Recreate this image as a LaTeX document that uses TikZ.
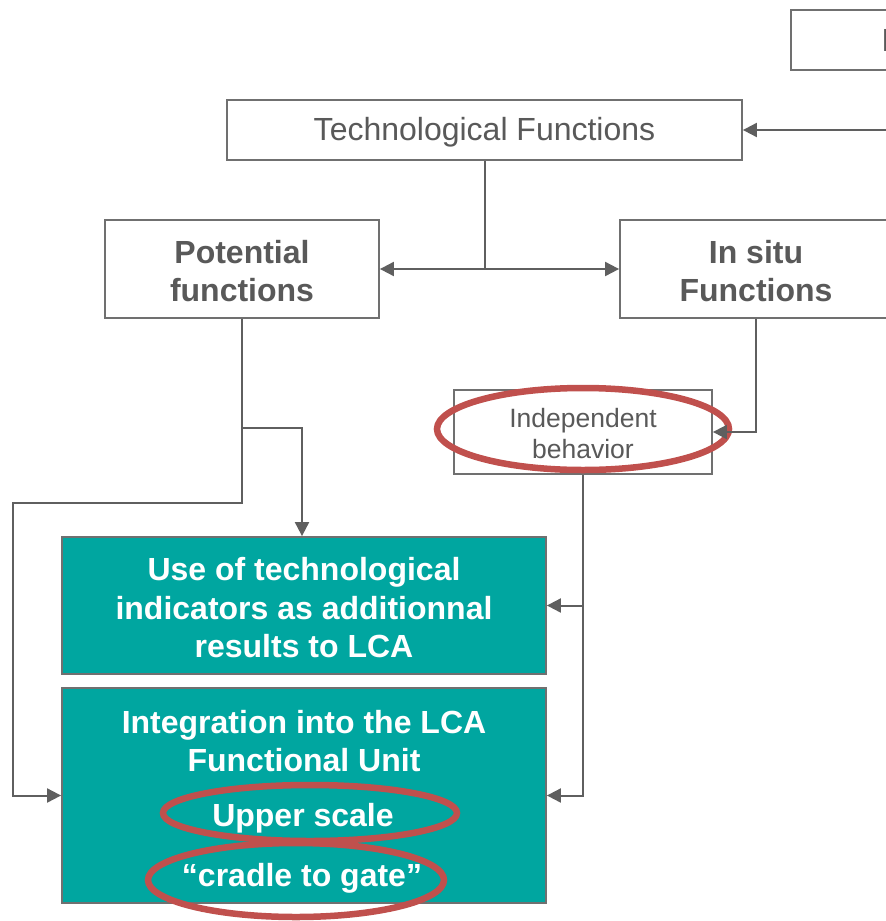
\documentclass[tikz,border=0pt]{standalone}
\usepackage{fontspec}
\setmainfont{Liberation Sans}
\usetikzlibrary{arrows.meta}
\definecolor{linegray}{RGB}{95,95,95}
\definecolor{boxgray}{RGB}{112,112,112}
\definecolor{txtgray}{RGB}{89,89,89}
\definecolor{lcateal}{RGB}{0,166,160}
\definecolor{ringred}{RGB}{192,80,77}
\begin{document}
\begin{tikzpicture}[x=1pt,y=-1pt,
  plainbox/.style={draw=boxgray, line width=1.8pt, fill=white, inner sep=0pt,
    align=center, text=txtgray},
  tealbox/.style={draw=boxgray, line width=1.8pt, fill=lcateal, inner sep=0pt,
    align=center, text=white},
  bigtxt/.style={font=\fontsize{32}{34}\selectfont},
  boldtxt/.style={font=\fontsize{32}{38.5}\selectfont\bfseries},
  smalltxt/.style={font=\fontsize{26.5}{31}\selectfont},
  conn/.style={draw=linegray, line width=2pt},
  arr/.style={conn, -{Triangle[length=14pt,width=14pt]}},
  ring/.style={draw=ringred, line width=6.5pt}]
\useasboundingbox (0,0) rectangle (886,921);
\clip (0,0) rectangle (886,921);

% boxes (frames first, labels placed on their centres)
\node[plainbox, minimum width=320, minimum height=60] (top) at (951,40) {};
\node[anchor=base west, inner sep=0pt, text=txtgray, bigtxt] (topt) at (881.5,51) {F};
\node[plainbox, minimum width=515, minimum height=60] (tech) at (484.5,130) {};
\node[text=txtgray, bigtxt, inner sep=0pt] (techt) at (484.5,132) {Technological Functions};
\node[plainbox, minimum width=274, minimum height=98] (pot) at (242,269) {};
\node[text=txtgray, boldtxt, align=center, inner sep=0pt] (pott) at (242,271) {Potential\\functions};
\node[plainbox, minimum width=272, minimum height=98] (insitu) at (756,269) {};
\node[text=txtgray, boldtxt, align=center, inner sep=0pt] (insitut) at (756,271) {In situ\\Functions};
\node[plainbox, minimum width=258, minimum height=84] (indep) at (583,432) {};
\node[text=txtgray, smalltxt, align=center, inner sep=0pt] (indept) at (583,434) {Independent\\behavior};
\node[tealbox, minimum width=484, minimum height=137] (use) at (304,605.5) {};
\node[text=white, boldtxt, align=center, inner sep=0pt] (uset) at (304,608)
  {Use of technological\\indicators as additionnal\\results to LCA};
\node[tealbox, minimum width=484, minimum height=215] (integ) at (304,795.5) {};
\node[text=white, boldtxt, align=center, inner sep=0pt] (integt) at (304,741)
  {Integration into the LCA\\Functional Unit};
\node[text=white, boldtxt, inner sep=0pt] (upper) at (303,818) {Upper scale};
\node[text=white, boldtxt, inner sep=0pt] (cradle) at (302,878) {“cradle to gate”};

% red rings
\draw[ring] (583,429) ellipse [x radius=146, y radius=41];
\draw[ring] (310,813) ellipse [x radius=147, y radius=28];
\draw[ring] (296,880) ellipse [x radius=148, y radius=37];

% connectors
\coordinate (rin) at (892,130);
\draw[arr] (rin) -- (tech.east);
\coordinate (split) at (tech.south |- pot.east);
\draw[conn] (tech.south) -- (split);
\draw[arr] (split) -- (pot.east);
\draw[arr] (split) -- (insitu.west);
\draw[arr] (insitu.south) |- (indep.east);
\draw[arr] (indep.south) |- (use.east);
\draw[arr] (indep.south) |- (integ.east);
\coordinate (pb) at (242,428);
\coordinate (lb) at (242,503);
\coordinate (lc) at (13,503);
\draw[arr] (pot.south) -- (lb) -- (lc) |- (integ.west);
\draw[arr] (pb) -| ([xshift=-2pt]use.north);
\end{tikzpicture}
\end{document}
